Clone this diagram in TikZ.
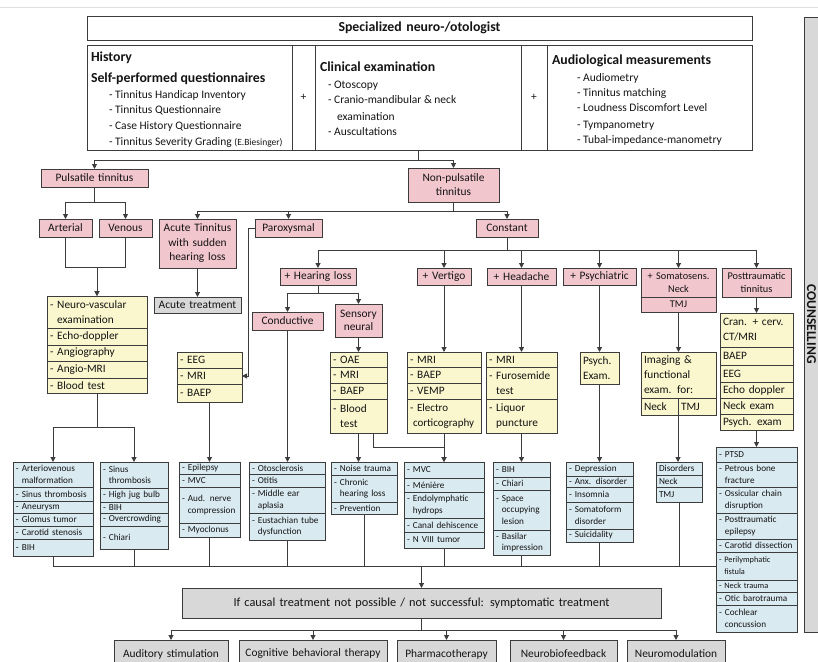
\documentclass[tikz,border=0pt]{standalone}
\usepackage{fontspec}
\setmainfont{Carlito}
\usetikzlibrary{arrows.meta}
\definecolor{pinkc}{RGB}{242,198,205}
\definecolor{yelc}{RGB}{250,246,205}
\definecolor{bluc}{RGB}{218,234,241}
\definecolor{gryc}{RGB}{216,216,216}
\definecolor{linec}{RGB}{60,60,60}
\hyphenpenalty=10000
\begin{document}
\begin{tikzpicture}[x=1pt, y=-1pt,
    every node/.style={inner xsep=3pt, inner ysep=0.5pt, outer sep=0pt,
      text=black!92, font=\fontsize{11.4}{14}\selectfont},
    box/.style={draw=linec, line width=0.8pt, anchor=north west},
    cellw/.style={minimum width=#1, text width=#1-6},
    cellh/.style={minimum height=#1},
    pk/.style={box, fill=pinkc, align=center},
    yl/.style={box, fill=yelc, align=left, font=\fontsize{11.3}{15}\selectfont},
    bl/.style={box, fill=bluc, align=left, font=\fontsize{9.2}{11.5}\selectfont},
    gy/.style={box, fill=gryc, align=center},
    txt/.style={anchor=base west, inner sep=0pt, font=\fontsize{11.5}{14}\selectfont},
    ttl/.style={anchor=base west, inner sep=0pt, font=\fontsize{13.8}{16}\selectfont\bfseries},
    arr/.style={draw=linec, line width=1pt, -{Triangle[length=5pt, width=5pt]}},
    ln/.style={draw=linec, line width=1pt}]
  \useasboundingbox (0,0) rectangle (818,661);
  \draw[black!12] (0,7) -- (818,7);

  % specialist row
  \node[box, cellw=665, cellh=24, align=center, font=\fontsize{13.8}{16}\selectfont\bfseries] (spec) at (87,16) {Specialized neuro-/otologist};
  \node[box, cellw=205, cellh=105] (hist) at (87,45) {};
  \node[box, cellw=23, cellh=105, align=center] (plus1) at (292,45) {+};
  \node[box, cellw=206, cellh=105] (clin) at (315,45) {};
  \node[box, cellw=26, cellh=105, align=center] (plus2) at (521,45) {+};
  \node[box, cellw=205, cellh=105] (audio) at (547,45) {};
  \node[ttl] (histA) at (91,62) {History};
  \node[ttl] (histB) at (91,82) {Self-performed questionnaires};
  \node[txt] (hq1) at (109,98) {- Tinnitus Handicap Inventory};
  \node[txt] (hq2) at (109,113.5) {- Tinnitus Questionnaire};
  \node[txt] (hq3) at (109,129.5) {- Case History Questionnaire};
  \node[txt] (hq4) at (109,145) {- Tinnitus Severity Grading {\fontsize{9.5}{10}\selectfont(E.Biesinger)}};
  \node[ttl] (clinA) at (320,71.5) {Clinical examination};
  \node[txt] (cl1) at (328,88) {- Otoscopy};
  \node[txt] (cl2) at (328,103) {- Cranio-mandibular \& neck};
  \node[txt] (cl3) at (337,120) {examination};
  \node[txt] (cl4) at (328,135) {- Auscultations};
  \node[ttl] (audA) at (552,64.5) {Audiological measurements};
  \node[txt] (au1) at (577,81) {- Audiometry};
  \node[txt] (au2) at (577,96) {- Tinnitus matching};
  \node[txt] (au3) at (577,111) {- Loudness Discomfort Level};
  \node[txt] (au4) at (577,128) {- Tympanometry};
  \node[txt] (au5) at (577,143) {- Tubal-impedance-manometry};

  % pulsatile branch
  \node[pk, cellw=107, cellh=18] (pulse) at (41,169) {Pulsatile tinnitus};
  \node[pk, cellw=53, cellh=18] (art) at (39,219) {Arterial};
  \node[pk, cellw=53, cellh=18] (ven) at (99,219) {Venous};
  \node[yl, cellw=100, cellh=32] (pw1) at (47,296) {- Neuro-vascular\\\phantom{- }examination};
  \node[yl, cellw=100, cellh=17] (pw2) at (47,328) {- Echo-doppler};
  \node[yl, cellw=100, cellh=16] (pw3) at (47,345) {- Angiography};
  \node[yl, cellw=100, cellh=17] (pw4) at (47,361) {- Angio-MRI};
  \node[yl, cellw=100, cellh=15] (pw5) at (47,378) {- Blood test};
  \node[bl, cellw=80, cellh=25] (a1) at (13,462) {- Arteriovenous\\\phantom{- }malformation};
  \node[bl, cellw=80, cellh=14] (a2) at (13,487) {- Sinus thrombosis};
  \node[bl, cellw=80, cellh=12] (a3) at (13,501) {- Aneurysm};
  \node[bl, cellw=80, cellh=13] (a4) at (13,513) {- Glomus tumor};
  \node[bl, cellw=80, cellh=13] (a5) at (13,526) {- Carotid stenosis};
  \node[bl, cellw=80, cellh=17] (a6) at (13,539) {- BIH};
  \node[bl, cellw=68, cellh=26] (v1) at (100,462) {- Sinus\\\phantom{- }thrombosis};
  \node[bl, cellw=68, cellh=14] (v2) at (100,488) {- High jug bulb};
  \node[bl, cellw=68, cellh=11] (v3) at (100,502) {- BIH};
  \node[bl, cellw=68, cellh=13] (v4) at (100,513) {- Overcrowding};
  \node[bl, cellw=68, cellh=23] (v5) at (100,526) {- Chiari};

  % non-pulsatile branch
  \node[pk, cellw=91, cellh=34] (nonp) at (408,168) {Non-pulsatile\\tinnitus};
  \node[pk, cellw=77, cellh=49, font=\fontsize{11.4}{14.5}\selectfont] (acute) at (159,219) {Acute Tinnitus\\with sudden\\hearing loss};
  \node[gy, cellw=87, cellh=16] (acutetr) at (154,297) {Acute treatment};
  \node[pk, cellw=67, cellh=18] (parox) at (255,219) {Paroxysmal};
  \node[pk, cellw=62, cellh=18] (const) at (476,219) {Constant};
  \node[yl, cellw=65, cellh=16] (px1) at (177,352) {- EEG};
  \node[yl, cellw=65, cellh=16] (px2) at (177,368) {- MRI};
  \node[yl, cellw=65, cellh=18] (px3) at (177,384) {- BAEP};
  \node[bl, cellw=61, cellh=12] (pc1) at (179,462) {- Epilepsy};
  \node[bl, cellw=61, cellh=13] (pc2) at (179,474) {- MVC};
  \node[bl, cellw=61, cellh=36] (pc3) at (179,487) {- Aud. nerve\\\phantom{- }compression};
  \node[bl, cellw=61, cellh=14] (pc4) at (179,523) {- Myoclonus};

  % constant tinnitus
  \node[pk, cellw=76, cellh=17] (hl) at (280,268) {+ Hearing loss};
  \node[pk, cellw=54, cellh=17] (vert) at (417,268) {+ Vertigo};
  \node[pk, cellw=69, cellh=17] (head) at (487,268) {+ Headache};
  \node[pk, cellw=73, cellh=17] (psy) at (563,268) {+ Psychiatric};
  \node[pk, cellw=75, cellh=29, font=\fontsize{10.3}{12.5}\selectfont] (soma) at (641,268) {+ Somatosens.\\Neck};
  \node[pk, cellw=75, cellh=15, font=\fontsize{10.3}{12}\selectfont] (tmj) at (641,297) {TMJ};
  \node[pk, cellw=69, cellh=29, font=\fontsize{10.3}{12.5}\selectfont] (post) at (722,268) {Posttraumatic\\tinnitus};
  \node[pk, cellw=71, cellh=18] (cond) at (252,312) {Conductive};
  \node[pk, cellw=47, cellh=33, font=\fontsize{11.4}{13.5}\selectfont] (sens) at (335,304) {Sensory\\neural};

  \node[yl, cellw=57, cellh=15] (sn1) at (330,352) {- OAE};
  \node[yl, cellw=57, cellh=16] (sn2) at (330,367) {- MRI};
  \node[yl, cellw=57, cellh=16] (sn3) at (330,383) {- BAEP};
  \node[yl, cellw=57, cellh=34] (sn4) at (330,399) {- Blood\\\phantom{- }test};
  \node[yl, cellw=74, cellh=15] (vt1) at (407,352) {- MRI};
  \node[yl, cellw=74, cellh=16] (vt2) at (407,367) {- BAEP};
  \node[yl, cellw=74, cellh=16] (vt3) at (407,383) {- VEMP};
  \node[yl, cellw=74, cellh=34, font=\fontsize{11}{15}\selectfont] (vt4) at (407,399) {- Electro\\\hspace*{3pt}corticography};
  \node[yl, cellw=71, cellh=15] (hd1) at (486,352) {- MRI};
  \node[yl, cellw=71, cellh=32] (hd2) at (486,367) {- Furosemide\\\phantom{- }test};
  \node[yl, cellw=71, cellh=34] (hd3) at (486,399) {- Liquor\\\phantom{- }puncture};
  \node[yl, cellw=39, cellh=32] (psx) at (580,352) {Psych.\\Exam.};
  \node[yl, cellw=75, cellh=46] (im1) at (641,352) {Imaging \&\\functional\\exam. for:};
  \node[yl, cellw=37, cellh=17] (im2) at (641,398) {Neck};
  \node[yl, cellw=38, cellh=17] (im3) at (678,398) {TMJ};
  \node[yl, cellw=73, cellh=34] (pt1) at (720,313) {Cran. + cerv.\\CT/MRI};
  \node[yl, cellw=73, cellh=18] (pt2) at (720,347) {BAEP};
  \node[yl, cellw=73, cellh=17] (pt3) at (720,365) {EEG};
  \node[yl, cellw=73, cellh=16] (pt4) at (720,382) {Echo doppler};
  \node[yl, cellw=73, cellh=16] (pt5) at (720,398) {Neck exam};
  \node[yl, cellw=73, cellh=16] (pt6) at (720,414) {Psych. exam};

  \node[bl, cellw=76, cellh=12] (cc1) at (249,462) {- Otosclerosis};
  \node[bl, cellw=76, cellh=13] (cc2) at (249,474) {- Otitis};
  \node[bl, cellw=76, cellh=26] (cc3) at (249,487) {- Middle ear\\\phantom{- }aplasia};
  \node[bl, cellw=76, cellh=27] (cc4) at (249,513) {- Eustachian tube\\\phantom{- }dysfunction};
  \node[bl, cellw=66, cellh=13] (sc1) at (331,462) {- Noise trauma};
  \node[bl, cellw=66, cellh=27] (sc2) at (331,475) {- Chronic\\\phantom{- }hearing loss};
  \node[bl, cellw=66, cellh=12] (sc3) at (331,502) {- Prevention};
  \node[bl, cellw=80, cellh=16] (vc1) at (404,462) {- MVC};
  \node[bl, cellw=80, cellh=14] (vc2) at (404,478) {- Ménière};
  \node[bl, cellw=80, cellh=26] (vc3) at (404,492) {- Endolymphatic\\\phantom{- }hydrops};
  \node[bl, cellw=80, cellh=14] (vc4) at (404,518) {- Canal dehiscence};
  \node[bl, cellw=80, cellh=16] (vc5) at (404,532) {- N VIII tumor};
  \node[bl, cellw=57, cellh=15] (hc1) at (493,462) {- BIH};
  \node[bl, cellw=57, cellh=13] (hc2) at (493,477) {- Chiari};
  \node[bl, cellw=57, cellh=40] (hc3) at (493,490) {- Space\\\phantom{- }occupying\\\phantom{- }lesion};
  \node[bl, cellw=57, cellh=25] (hc4) at (493,530) {- Basilar\\\phantom{- }impression};
  \node[bl, cellw=67, cellh=14] (ps1) at (566,462) {- Depression};
  \node[bl, cellw=67, cellh=11] (ps2) at (566,476) {- Anx. disorder};
  \node[bl, cellw=67, cellh=15] (ps3) at (566,487) {- Insomnia};
  \node[bl, cellw=67, cellh=27] (ps4) at (566,502) {- Somatoform\\\phantom{- }disorder};
  \node[bl, cellw=67, cellh=13] (ps5) at (566,529) {- Suicidality};
  \node[bl, cellw=46, cellh=13] (ds1) at (656,462) {Disorders};
  \node[bl, cellw=46, cellh=12] (ds2) at (656,475) {Neck};
  \node[bl, cellw=46, cellh=15] (ds3) at (656,487) {TMJ};
  \node[bl, cellw=81, cellh=15] (tc1) at (716,447) {- PTSD};
  \node[bl, cellw=81, cellh=25] (tc2) at (716,462) {- Petrous bone\\\phantom{- }fracture};
  \node[bl, cellw=81, cellh=26] (tc3) at (716,487) {- Ossicular chain\\\phantom{- }disruption};
  \node[bl, cellw=81, cellh=26] (tc4) at (716,513) {- Posttraumatic\\\phantom{- }epilepsy};
  \node[bl, cellw=81, cellh=13] (tc5) at (716,539) {- Carotid dissection};
  \node[bl, cellw=81, cellh=28, font=\fontsize{8.3}{12}\selectfont] (tc6) at (716,552) {- Perilymphatic\\\phantom{- }fistula};
  \node[bl, cellw=81, cellh=12, font=\fontsize{8.3}{10}\selectfont] (tc7) at (716,580) {- Neck trauma};
  \node[bl, cellw=81, cellh=13] (tc8) at (716,592) {- Otic barotrauma};
  \node[bl, cellw=81, cellh=27] (tc9) at (716,605) {- Cochlear\\\phantom{- }concussion};

  % symptomatic treatment
  \node[gy, cellw=479, cellh=30, font=\fontsize{12.3}{15}\selectfont] (sym) at (182,588) {If causal treatment not possible / not successful: symptomatic treatment};
  \node[gy, cellw=114, cellh=28] (t1) at (114,640) {Auditory stimulation};
  \node[gy, cellw=148, cellh=28] (t2) at (239,640) {Cognitive behavioral therapy};
  \node[gy, cellw=99, cellh=28] (t3) at (397,640) {Pharmacotherapy};
  \node[gy, cellw=107, cellh=28] (t4) at (510,640) {Neurobiofeedback};
  \node[gy, cellw=98, cellh=28] (t5) at (627,640) {Neuromodulation};
  \node[box, fill=gryc, cellw=30, cellh=615] (cou) at (804,17) {};
  \node[rotate=-90, inner sep=0pt, font=\fontsize{13.5}{16}\selectfont\bfseries] (coutxt) at (811.5,324) {COUNSELLING};

  % connectors
  \draw[arr] (clin.south) -- ++(0,10) -| (pulse.north);
  \draw[arr] (clin.south) -- ++(0,10) -| (nonp.north);
  \draw[arr] (pulse.south) -- ++(0,15) -| (art.north);
  \draw[arr] (pulse.south) -- ++(0,15) -| (ven.north);
  \draw[arr] (art.south) -- ++(0,30) -| (pw1.north);
  \draw[arr] (ven.south) -- ++(0,30) -| (pw1.north);
  \draw[arr] (pw5.south) -- ++(0,34) -| (a1.north);
  \draw[arr] (pw5.south) -- ++(0,34) -| (v1.north);
  \draw[arr] (nonp.south) -- ++(0,9) -| (acute.north);
  \draw[arr] (nonp.south) -- ++(0,9) -| (parox.north);
  \draw[arr] (nonp.south) -- ++(0,9) -| (const.north);
  \draw[arr] (acute.south) -- (acutetr.north);
  \draw[arr] (parox.west) -- ++(-7,0) |- (px2.east);
  \draw[arr] (px3.south) -- (pc1.north);
  \draw[arr] (const.south) -- ++(0,13) -| (hl.north);
  \draw[arr] (const.south) -- ++(0,13) -| (vert.north);
  \draw[arr] (const.south) -- ++(0,13) -| (head.north);
  \draw[arr] (const.south) -- ++(0,13) -| (psy.north);
  \draw[arr] (const.south) -- ++(0,13) -| (soma.north);
  \draw[arr] (const.south) -- ++(0,13) -| (post.north);
  \draw[arr] (hl.south) -- ++(0,8) -| (cond.north);
  \draw[arr] (hl.south) -- ++(0,8) -| (sens.north);
  \draw[arr] (sens.south) -- (sn1.north);
  \draw[arr] (cond.south) -- (cond.south |- cc1.north);
  \draw[arr] (sn4.south) -- (sn4.south |- sc1.north);
  \draw[arr] ([xshift=15]sn4.south) |- ([yshift=15]vc1.north) -- (vc1.north);
  \draw[arr] (vert.south) -- (vt1.north);
  \draw[arr] (vt4.south) -- (vc1.north);
  \draw[arr] (head.south) -- (hd1.north);
  \draw[arr] (hd3.south) -- (hc1.north);
  \draw[arr] (psy.south) -- (psx.north);
  \draw[arr] (psx.south) -- (ps1.north);
  \draw[arr] (tmj.south) -- (im1.north);
  \draw[arr] (im2.south east) -- (im2.south east |- ds1.north);
  \draw[arr] (post.south) -- (pt1.north);
  \draw[arr] (pt6.south) -- (tc1.north);

  \coordinate (bus) at (421.5,566);
  \draw[ln] (a6.south) |- (bus -| tc6.west);
  \draw[ln] (v5.south) -- (v5.south |- bus);
  \draw[ln] (pc4.south) -- (pc4.south |- bus);
  \draw[ln] (cc4.south) -- (cc4.south |- bus);
  \draw[ln] (sc3.south) -- (sc3.south |- bus);
  \draw[ln] (vc5.south) -- (vc5.south |- bus);
  \draw[ln] (hc4.south) -- (hc4.south |- bus);
  \draw[ln] (ps5.south) -- (ps5.south |- bus);
  \draw[ln] (ds3.south) -- (ds3.south |- bus);
  \draw[arr] (bus) -- (sym.north);
  \draw[arr] (sym.south) -- ++(0,12) -| (t1.north);
  \draw[arr] (sym.south) -- ++(0,12) -| (t2.north);
  \draw[arr] (sym.south) -- ++(0,12) -| (t3.north);
  \draw[arr] (sym.south) -- ++(0,12) -| (t4.north);
  \draw[arr] (sym.south) -- ++(0,12) -| (t5.north);
\end{tikzpicture}
\end{document}
